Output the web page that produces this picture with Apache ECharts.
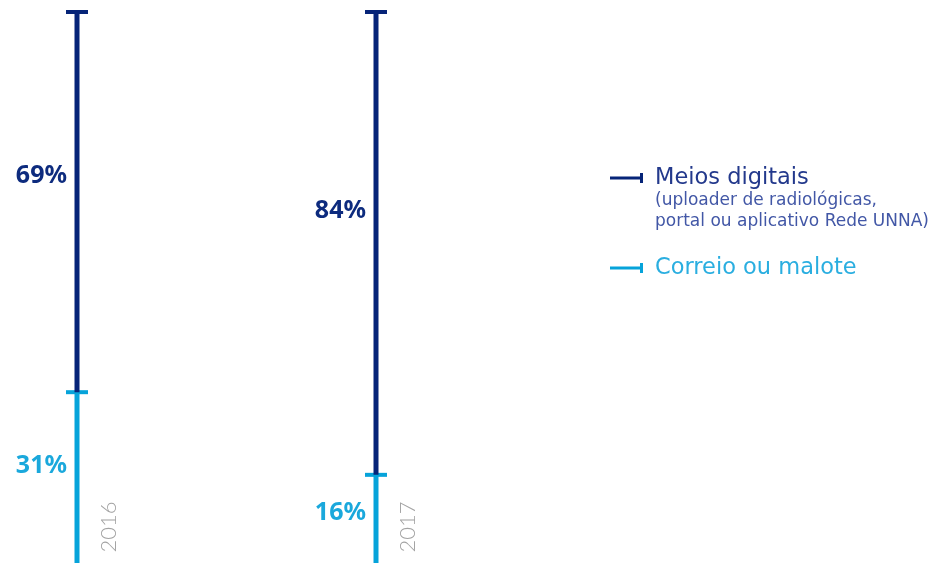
<!DOCTYPE html>
<html>
<head>
<meta charset="utf-8">
<script src="https://cdn.jsdelivr.net/npm/echarts@6/dist/echarts.min.js"></script>
<style>html,body{margin:0;padding:0;background:#fff}#c{width:945px;height:563px}</style>
</head>
<body>
<div id="c"></div>
<script>
const years = ['2016', '2017'];
const correio = [31, 16];
const digitais = [69, 84];
const names = ['Meios digitais', 'Correio ou malote'];
const subtitle = ['(uploader de radiológicas,', 'portal ou aplicativo Rede UNNA)'];

const DARK = '#062478';
const LIGHT = '#06a3da';

const chart = echarts.init(document.getElementById('c'));

function makeRender(color, labelColor, withYear) {
  return function (params, api) {
    const i = api.value(0);
    const s = api.coord([i, api.value(1)]);
    const e = api.coord([i, api.value(2)]);
    const x = s[0];
    const v = api.value(2) - api.value(1);
    const children = [
      { type: 'rect', shape: { x: x - 2.5, y: e[1], width: 5, height: s[1] - e[1] }, style: { fill: color } },
      { type: 'rect', shape: { x: x - 11, y: e[1] - 2, width: 22, height: 4 }, style: { fill: color } },
      { type: 'text', x: x - 10, y: e[1] + (s[1] - e[1]) * 0.43,
        style: { text: v + '%', fill: labelColor, align: 'right', verticalAlign: 'middle',
                 font: 'bold 25px "Noto Sans", sans-serif' } }
    ];
    if (withYear) {
      children.push({ type: 'text', x: x + 32, y: s[1] - 36, rotation: Math.PI / 2,
        style: { text: years[i], fill: '#a3a3a3', align: 'center', verticalAlign: 'middle',
                 font: '300 22px "Lato", sans-serif' } });
    }
    return { type: 'group', children };
  };
}

chart.setOption({
  animation: false,
  grid: { left: 77, right: 569, top: 12, bottom: 0 },
  xAxis: { type: 'category', data: years, boundaryGap: false, show: false },
  yAxis: { type: 'value', min: 0, max: 100, show: false },
  legend: {
    orient: 'vertical', left: 605, top: 161, itemGap: 66,
    itemWidth: 33, itemHeight: 10,
    selectedMode: false,
    textStyle: { fontFamily: 'DejaVu Sans', fontSize: 22.5, lineHeight: 24, padding: [0, 0, 0, 7] },
    data: [
      { name: names[0], icon: 'path://M0,3.5H30V0H33V10H30V6.5H0Z', textStyle: { color: '#23398c' } },
      { name: names[1], icon: 'path://M0,3.5H30V0H33V10H30V6.5H0Z', textStyle: { color: '#2aaee0' } }
    ]
  },
  graphic: [
    { type: 'text', left: 655, top: 190, style: { text: subtitle.join('\n'), fill: '#4257a6',
      font: '17px "DejaVu Sans", sans-serif', lineHeight: 21 } }
  ],
  series: [
    { name: names[1], type: 'custom', itemStyle: { color: LIGHT },
      data: years.map((y, i) => [i, 0, correio[i]]),
      renderItem: makeRender(LIGHT, '#1aa8dc', true) },
    { name: names[0], type: 'custom', itemStyle: { color: DARK },
      data: years.map((y, i) => [i, correio[i], correio[i] + digitais[i]]),
      renderItem: makeRender(DARK, '#0d2b7e', false) }
  ]
});
</script>
</body>
</html>
